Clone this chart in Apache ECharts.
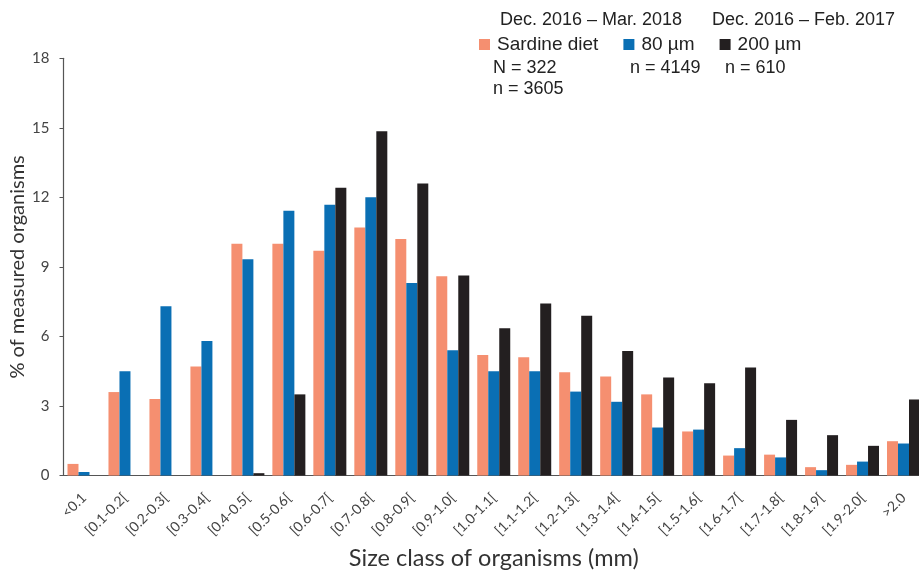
<!DOCTYPE html>
<html>
<head>
<meta charset="utf-8">
<script src="https://cdn.jsdelivr.net/npm/echarts@6/dist/echarts.min.js"></script>
<style>html,body{margin:0;padding:0;background:#fff;}#c{width:919px;height:572px;}</style>
</head>
<body>
<div id="c"></div>
<script>
const categories = ['<0.1','[0.1-0.2[','[0.2-0.3[','[0.3-0.4[','[0.4-0.5[','[0.5-0.6[','[0.6-0.7[','[0.7-0.8[','[0.8-0.9[','[0.9-1.0[','[1.0-1.1[','[1.1-1.2[','[1.2-1.3[','[1.3-1.4[','[1.4-1.5[','[1.5-1.6[','[1.6-1.7[','[1.7-1.8[','[1.8-1.9[','[1.9-2.0[','>2.0'];
const sardineDiet = [0.5,3.6,3.3,4.7,10.0,10.0,9.7,10.7,10.2,8.6,5.2,5.1,4.45,4.27,3.5,1.9,0.86,0.9,0.36,0.46,1.48];
const mesh80 = [0.15,4.5,7.3,5.8,9.33,11.42,11.68,12.0,8.3,5.4,4.5,4.5,3.62,3.18,2.07,1.98,1.18,0.78,0.23,0.6,1.38];
const mesh200 = [0,0,0,0,0.1,3.5,12.41,14.85,12.6,8.63,6.35,7.42,6.89,5.37,4.23,3.98,4.66,2.4,1.74,1.28,3.28];
const yTicks = [0,3,6,9,12,15,18];

const chart = echarts.init(document.getElementById('c'));
const font = 'Lato';
chart.setOption({
  animation: false,
  backgroundColor: '#fff',
  grid: {left: 63.5, right: -5, top: 58.3, bottom: 96.5, containLabel: false, outerBoundsMode: 'none'},
  legend: {
    left: 474, top: 30, itemWidth: 11, itemHeight: 11, itemGap: 25, icon: 'rect',
    data: ['Sardine diet','80 µm','200 µm'],
    textStyle: {fontFamily: 'Liberation Sans', fontSize: 19, color: '#222', padding: [0,0,0,2]}
  },
  graphic: [
    {type:'text', left:500, top:11, style:{text:'Dec. 2016 – Mar. 2018', font:'18px "Liberation Sans"', fill:'#222'}},
    {type:'text', left:712, top:11, style:{text:'Dec. 2016 – Feb. 2017', font:'18px "Liberation Sans"', fill:'#222'}},
    {type:'text', left:493, top:59, style:{text:'N = 322', font:'18px "Liberation Sans"', fill:'#222'}},
    {type:'text', left:630, top:59, style:{text:'n = 4149', font:'18px "Liberation Sans"', fill:'#222'}},
    {type:'text', left:725, top:59, style:{text:'n = 610', font:'18px "Liberation Sans"', fill:'#222'}},
    {type:'text', left:493, top:80, style:{text:'n = 3605', font:'18px "Liberation Sans"', fill:'#222'}}
  ],
  xAxis: {
    type: 'category', data: categories,
    name: 'Size class of organisms (mm)', nameLocation: 'middle', nameGap: 71, nameMoveOverlap: false,
    nameTextStyle: {fontFamily: font, fontSize: 23.5, color: '#333'},
    axisLine: {lineStyle: {color: '#555', width: 1.2}},
    axisTick: {show: false},
    axisLabel: {rotate: 45, interval: 0, fontFamily: font, fontSize: 14, color: '#444', margin: 20}
  },
  yAxis: {
    type: 'value', min: 0, max: 18, interval: 3,
    name: '% of measured organisms', nameLocation: 'middle', nameGap: 36, nameMoveOverlap: false,
    nameTextStyle: {fontFamily: font, fontSize: 20, color: '#333'},
    axisLine: {show: true, lineStyle: {color: '#555', width: 1.2}},
    axisTick: {show: true, length: 4, lineStyle: {color: '#555'}},
    splitLine: {show: false},
    axisLabel: {fontFamily: font, fontSize: 15, color: '#444', margin: 14,
      formatter: v => yTicks.includes(v) ? String(v) : ''}
  },
  series: [
    {name: 'Sardine diet', type: 'bar', data: sardineDiet, itemStyle: {color: '#F58F70'}, barGap: '0%', barCategoryGap: '19.5%'},
    {name: '80 µm', type: 'bar', data: mesh80, itemStyle: {color: '#0A6FB4'}, barGap: '0%', barCategoryGap: '19.5%'},
    {name: '200 µm', type: 'bar', data: mesh200, itemStyle: {color: '#231F20'}, barGap: '0%', barCategoryGap: '19.5%'}
  ]
});
</script>
</body>
</html>
